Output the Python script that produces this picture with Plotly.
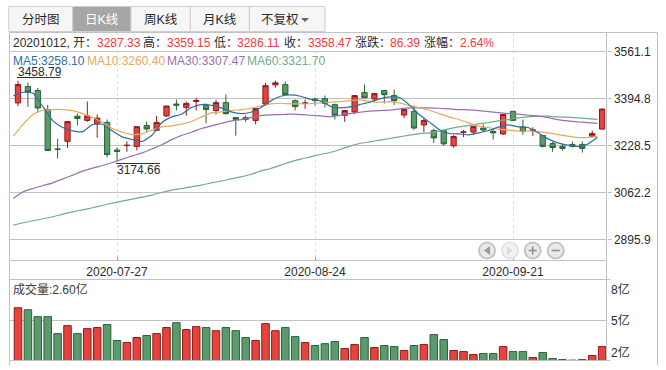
import plotly.graph_objects as go

W, H = 666, 370

tab_labels = ["分时图", "日K线", "周K线", "月K线", "不复权"]
price_ticks = [3561.1, 3394.8, 3228.5, 3062.2, 2895.9]
date_tick_pos = [10, 30, 50]
date_tick_labels = ["2020-07-27", "2020-08-24", "2020-09-21"]

opens = [3380, 3438, 3424, 3357, 3217, 3244, 3333, 3318, 3306, 3311, 3213, 3229, 3226, 3300, 3283, 3334, 3376, 3364, 3385, 3371,
         3353, 3381, 3328, 3328, 3318, 3376, 3444, 3445, 3388, 3378.5, 3394, 3395, 3374, 3336, 3348, 3417, 3394, 3424, 3406, 3337,
         3350, 3302, 3282, 3282, 3228, 3276, 3277, 3291, 3279, 3270, 3350, 3295, 3283, 3265, 3236, 3226, 3233, 3233, 3262, 3287.33]
highs = [3458.79, 3452, 3433, 3373, 3253, 3314, 3342, 3385, 3339, 3321, 3222, 3244, 3296, 3314, 3334, 3369, 3392, 3385, 3398, 3378,
         3391, 3410, 3328, 3336, 3360, 3451, 3459, 3456, 3392, 3392, 3399, 3406, 3378, 3353, 3406, 3445, 3413, 3424, 3427, 3357,
         3371, 3325, 3289, 3286, 3266, 3284, 3300, 3304, 3289, 3339, 3352, 3321, 3294, 3265, 3242, 3236, 3243, 3244, 3282, 3359.15]
lows = [3369, 3366, 3345, 3211.5, 3183, 3221, 3301, 3313, 3257, 3187, 3174.66, 3207, 3212, 3277, 3283, 3330, 3353, 3335, 3353, 3307,
        3339, 3339, 3264, 3313, 3304, 3369, 3434, 3410, 3353, 3359, 3371, 3364, 3321, 3313, 3341, 3398, 3384, 3378, 3373, 3326,
        3284, 3277, 3238, 3227.8, 3221, 3259, 3267, 3277, 3250, 3267, 3318, 3267, 3263, 3222, 3207, 3211, 3222, 3204, 3258, 3286.11]
closes = [3445, 3419, 3362, 3211.5, 3215.5, 3314, 3325, 3334, 3326, 3197, 3208, 3230, 3296, 3288, 3311, 3369, 3372, 3378, 3389, 3357,
          3381, 3342, 3322, 3322, 3360, 3441, 3451, 3410, 3367, 3379.5, 3388, 3378, 3336, 3353, 3406, 3398, 3413, 3409, 3388, 3357,
          3291, 3318, 3256, 3235, 3261, 3277, 3296, 3284, 3274, 3339, 3318, 3279, 3284, 3226, 3222, 3219, 3226, 3219, 3272, 3358.47]

ma5 = [3404.8, 3417.8, 3414.3, 3365.9, 3316.4, 3292.8, 3281, 3278.6, 3303.4, 3304.6, 3281, 3259.8, 3250.3, 3243.3, 3265.7, 3310.5,
       3330.5, 3340, 3363.6, 3374.2, 3371.8, 3362.4, 3348.2, 3342.3, 3347, 3363.6, 3387.2, 3403.7, 3408.4, 3403.7, 3393, 3387.2, 3368.3,
       3362.4, 3365.9, 3374.2, 3382.4, 3394.2, 3401.3, 3399, 3373, 3338.8, 3312.9, 3285.7, 3271.6, 3270.4, 3266.9, 3274, 3282.2, 3294,
       3302.3, 3295.2, 3292.8, 3274, 3252.7, 3238.6, 3230.3, 3225.6, 3233.8, 3258.1]
ma10 = [3262.2, 3304.6, 3340, 3354.1, 3356.5, 3356.5, 3353, 3342.3, 3328.2, 3311.7, 3289.3, 3276.3, 3268, 3270.4, 3283.4, 3295.2,
        3298.7, 3304.6, 3314, 3330.5, 3344.7, 3348.2, 3353, 3356.5, 3361.2, 3369.5, 3376.5, 3378.9, 3376.5, 3376.5, 3377.7, 3380, 3382.4,
        3384.8, 3388.3, 3390.7, 3386, 3382.4, 3384.8, 3380, 3370.6, 3363.6, 3354.1, 3342.3, 3330.5, 3321.1, 3309.3, 3297.5, 3292.8, 3286.9,
        3283.4, 3279.8, 3281, 3278.6, 3274, 3268, 3262.2, 3257.4, 3257.4, 3260.4]
ma30 = [3041.6, 3065.2, 3077, 3087.6, 3097, 3111.2, 3124.2, 3138.3, 3148.9, 3158.4, 3169, 3180.8, 3192.6, 3203.2, 3217.3, 3232,
        3250, 3265, 3276.3, 3289.3, 3298.7, 3307, 3316.4, 3321.1, 3328.2, 3335.3, 3337.6, 3338.8, 3340, 3338.8, 3336.4, 3334.1, 3331.7,
        3336.4, 3342.3, 3347, 3350.6, 3353, 3354.5, 3358.9, 3362.4, 3362.4, 3362.4, 3361.2, 3358.9, 3356.5, 3355.3, 3353, 3349.4, 3345.9,
        3342.3, 3340, 3336.4, 3332.9, 3328.2, 3321.1, 3316.4, 3312.9, 3310.5, 3307.47]
ma60 = [2947.2, 2955.5, 2962.6, 2969.7, 2976.8, 2986.2, 2994.4, 3001.5, 3008.6, 3016.8, 3025.1, 3032.2, 3039.3, 3046.3, 3053.4, 3062.8,
        3071.1, 3077, 3082.9, 3088.8, 3097, 3102.9, 3111.2, 3118.3, 3126.5, 3139.5, 3147.8, 3159.5, 3171.3, 3180.8, 3189, 3197.3, 3204.4,
        3215, 3226.8, 3236.2, 3242.1, 3248, 3253.9, 3259.8, 3265.7, 3271.6, 3274, 3279.8, 3288.1, 3295.2, 3299.9, 3305.8, 3310.5, 3316.4,
        3321.1, 3327, 3330.5, 3332.9, 3332.9, 3330.5, 3329.4, 3327, 3324.7, 3321.7]

volumes = [5.48, 5.33, 4.82, 4.82, 3.56, 4.15, 3.56, 3.93, 4.01, 4.23, 3.05, 2.90, 3.27, 3.42, 3.56, 4.01, 4.37, 3.86, 4.08, 4.01,
           3.78, 4.01, 3.78, 3.27, 3.05, 4.30, 3.78, 4.01, 3.34, 2.90, 2.68, 2.82, 2.97, 2.46, 2.75, 3.27, 2.53, 2.68, 2.60, 2.31,
           2.68, 2.75, 3.49, 3.12, 2.31, 2.23, 2.01, 2.09, 2.09, 2.60, 2.23, 2.23, 1.79, 2.16, 1.72, 1.64, 1.60, 1.64, 1.94, 2.60]

RED, RED_DK = "#e5433b", "#8f1a1e"
GRN, GRN_DK = "#5a9a6e", "#2a6434"
BLUE, ORANGE, PURPLE, TEAL = "#2f6f9f", "#e6a95e", "#9a6fae", "#73ab8b"
GRID = "#c2c2c2"
TXT = "#2b2b2b"
VAL_RED = "#e8403c"
FONT = "Liberation Sans, Noto Sans CJK SC, sans-serif"

idx = list(range(len(closes)))
LINE_SHIFT = -0.47
line_x = [i + LINE_SHIFT for i in idx]


def px(x):
    return x / W


def py(y):
    return (H - y) / H


LEFT, AXIS_X, RIGHT = 9.5, 606.5, 657.5
X_RANGE = [(LEFT - 18) / 9.9, (AXIS_X - 18) / 9.9]
TOP, MAIN_BOTTOM, VOL_TOP, VOL_BOTTOM, FRAME_BOTTOM = 32.5, 260.5, 279.5, 360.5, 365

fig = go.Figure()
fig.add_trace(go.Candlestick(
    x=idx, open=opens, high=highs, low=lows, close=closes, xaxis="x", yaxis="y",
    increasing=dict(fillcolor=RED, line=dict(color=RED_DK, width=1)),
    decreasing=dict(fillcolor=GRN, line=dict(color=GRN_DK, width=1)),
    whiskerwidth=0, hoverinfo="skip",
))
for values, colour in [(ma60, TEAL), (ma30, PURPLE), (ma10, ORANGE), (ma5, BLUE)]:
    fig.add_trace(go.Scatter(x=line_x, y=values, mode="lines", xaxis="x", yaxis="y", hoverinfo="skip",
                             line=dict(color=colour, width=1.2, shape="spline", smoothing=0.5)))
fig.add_trace(go.Bar(
    x=idx, y=volumes, xaxis="x2", yaxis="y2", hoverinfo="skip",
    marker=dict(color=[RED if c >= o else GRN for o, c in zip(opens, closes)],
                line=dict(color=[RED_DK if c >= o else GRN_DK for o, c in zip(opens, closes)], width=1)),
))

shapes = []


def line(x0, y0, x1, y1, colour=GRID, width=1):
    shapes.append(dict(type="line", xref="paper", yref="paper", x0=px(x0), x1=px(x1), y0=py(y0), y1=py(y1),
                       line=dict(color=colour, width=width), layer="above"))


def rect(x0, y0, x1, y1, fill, border="#cfcfcf"):
    shapes.append(dict(type="rect", xref="paper", yref="paper", x0=px(x0), x1=px(x1), y0=py(y0), y1=py(y1),
                       fillcolor=fill, line=dict(color=border, width=1), layer="above"))


def path(points, fill, border="rgba(0,0,0,0)"):
    d = "M" + " L".join(f"{px(a):.5f},{py(b):.5f}" for a, b in points) + " Z"
    shapes.append(dict(type="path", xref="paper", yref="paper", path=d, fillcolor=fill,
                       line=dict(color=border, width=1), layer="above"))


annotations = []


def text(x, y, s, colour=TXT, size=12, anchor="left"):
    annotations.append(dict(xref="paper", yref="paper", x=px(x), y=py(y), text=s, showarrow=False,
                            xanchor=anchor, yanchor="middle", align="left", borderpad=0, borderwidth=0,
                            font=dict(family=FONT, size=size, color=colour)))


# Tabs
tab_edges = [8.7, 72.7, 131, 190.3, 249.3, 325]
for i, label in enumerate(tab_labels):
    active = i == 1
    rect(tab_edges[i], 6.5, tab_edges[i + 1], 31.5, "#a6a6a6" if active else "#f6f6f6")
    cx = (tab_edges[i] + tab_edges[i + 1]) / 2
    if i == 4:
        text(cx - 7, 19.5, label, TXT, 12.5, "center")
        path([(301, 18), (309, 18), (305, 22)], "#666666")
    else:
        text(cx, 19.5, label, "#ffffff" if active else TXT, 12.5, "center")

# Frame
line(LEFT, TOP, RIGHT, TOP)
line(LEFT, TOP, LEFT, FRAME_BOTTOM)
line(RIGHT, TOP, RIGHT, FRAME_BOTTOM)
line(AXIS_X, TOP, AXIS_X, VOL_BOTTOM)
line(LEFT, MAIN_BOTTOM, AXIS_X, MAIN_BOTTOM)
line(LEFT, VOL_TOP, AXIS_X + 4, VOL_TOP)
line(LEFT, VOL_BOTTOM, AXIS_X + 4, VOL_BOTTOM)

# Info row
for x, s, c in [(13, "20201012, 开：", TXT), (97, "3287.33", VAL_RED), (143, "高：", TXT), (167, "3359.15", VAL_RED),
                (213.7, "低：", TXT), (237.3, "3286.11", VAL_RED), (284, "收：", TXT), (307.7, "3358.47", VAL_RED),
                (354.7, "涨跌：", TXT), (390.3, "86.39", VAL_RED), (424.3, "涨幅：", TXT), (460, "2.64%", VAL_RED)]:
    text(x, 42.5, s, c)

# MA legend
for x, s, c in [(13, "MA5:3258.10", BLUE), (86.7, "MA10:3260.40", ORANGE),
                (167.3, "MA30:3307.47", PURPLE), (247, "MA60:3321.70", TEAL)]:
    text(x, 60.5, s, c)

# High / low markers
text(17.5, 71.5, "3458.79")
line(17, 77.5, 60.5, 77.5, "#333333")
text(116.5, 170.5, "3174.66")
line(116, 163.5, 160, 163.5, "#333333")

# Volume labels
text(13, 289, "成交量:2.60亿", "#3a3a3a")
for y, s in [(289.5, "8亿"), (320.5, "5亿"), (352.5, "2亿")]:
    text(611, y, s)

# Navigation buttons
for i, cx in enumerate([487, 510, 532.7, 555.7]):
    faded = i == 1
    shapes.append(dict(type="circle", xref="paper", yref="paper", x0=px(cx - 8), x1=px(cx + 8), y0=py(250.5 + 8),
                       y1=py(250.5 - 8), fillcolor="#f4f4f4" if faded else "#e9e9e9",
                       line=dict(color="#e2e2e2" if faded else "#c4c4c4", width=2), layer="above"))
path([(484, 250.5), (490, 246), (490, 255)], "#9a9a9a")
path([(513, 250.5), (507, 246), (507, 255)], "#dcdcdc")
path([(528.7, 249.7), (536.7, 249.7), (536.7, 251.3), (528.7, 251.3)], "#8f8f8f")
path([(531.9, 246.5), (533.5, 246.5), (533.5, 254.5), (531.9, 254.5)], "#8f8f8f")
path([(551.7, 249.7), (559.7, 249.7), (559.7, 251.3), (551.7, 251.3)], "#8f8f8f")

fig.update_layout(
    width=W, height=H, autosize=False, margin=dict(l=0, r=0, t=0, b=0),
    paper_bgcolor="#ffffff", plot_bgcolor="#ffffff", showlegend=False, hovermode=False,
    boxgap=0.24, bargap=0.24, shapes=shapes, annotations=annotations,
    font=dict(family=FONT, size=12, color=TXT),
    xaxis=dict(domain=[px(LEFT), px(AXIS_X)], range=X_RANGE, anchor="y", rangeslider=dict(visible=False),
               tickmode="array", tickvals=date_tick_pos, ticktext=date_tick_labels,
               ticks="inside", ticklen=4, tickcolor="#999999", showline=False, zeroline=False,
               showgrid=True, gridcolor="#dedede", griddash="dot", gridwidth=1, ticklabelstandoff=2,
               tickfont=dict(family=FONT, size=12, color=TXT)),
    yaxis=dict(domain=[py(MAIN_BOTTOM), py(TOP)], range=[2821.9, 3629.4], side="right", anchor="x",
               tickmode="array", tickvals=price_ticks, ticktext=[f"{v:.1f}" for v in price_ticks],
               ticks="outside", ticklen=4, tickcolor=GRID, showline=False, zeroline=False,
               showgrid=True, gridcolor=GRID, gridwidth=1,
               tickfont=dict(family=FONT, size=12, color=TXT)),
    xaxis2=dict(domain=[px(LEFT), px(AXIS_X)], range=X_RANGE, anchor="y2", showticklabels=False, ticks="",
                showgrid=False, zeroline=False, showline=False),
    yaxis2=dict(domain=[py(VOL_BOTTOM), py(VOL_TOP)], range=[1.57, 7.57], side="right", anchor="x2",
                tickmode="array", tickvals=[1.57, 4.57, 7.57], showticklabels=False, ticks="",
                showline=False, zeroline=False, showgrid=True, gridcolor=GRID, gridwidth=1),
)

fig.write_html("out.html", config=dict(displayModeBar=False),
               post_script="document.body.style.margin='0';")
